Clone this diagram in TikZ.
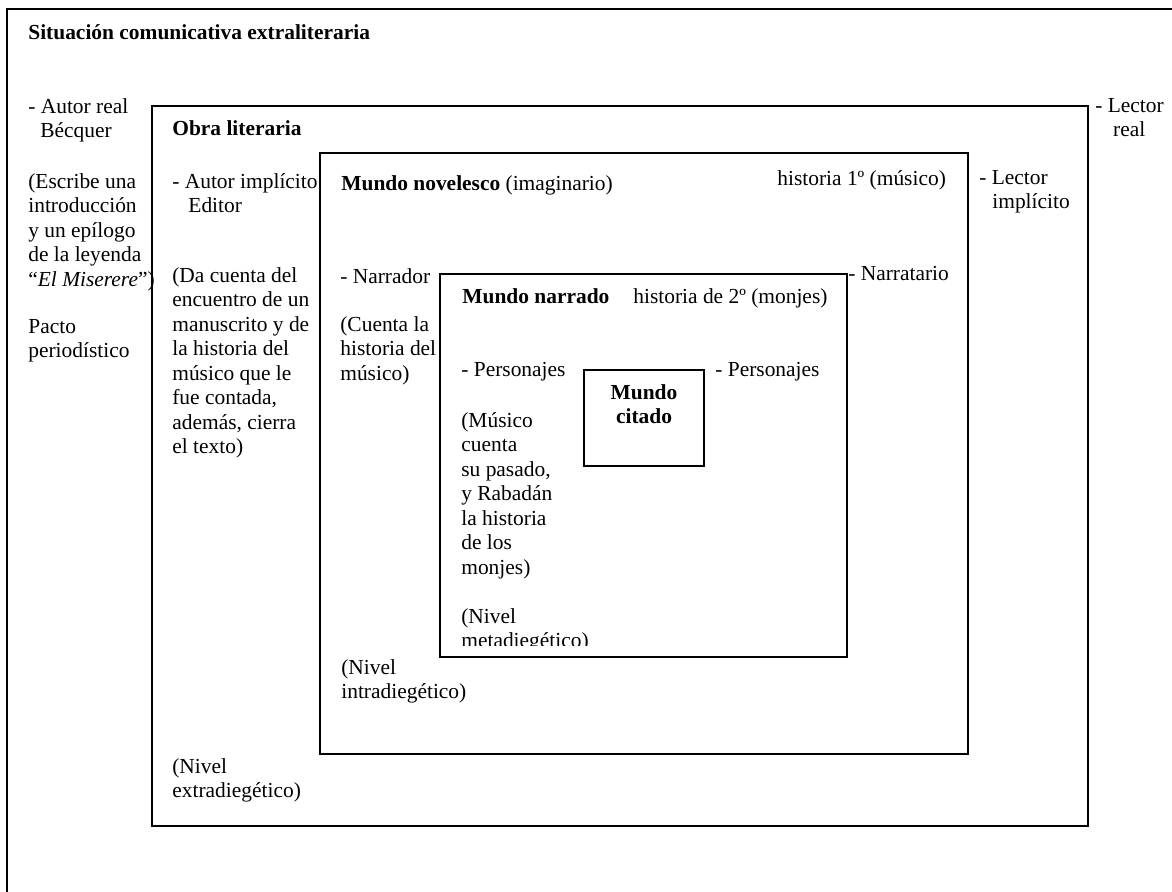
\documentclass[tikz,border=0pt]{standalone}
\usepackage{fontspec}
\setmainfont{Liberation Serif}
\usepackage{tikz}

\begin{document}
\begin{tikzpicture}[x=0.56pt,y=-0.56pt]
\tikzset{
  txt/.style={font=\fontsize{12}{13.7}\selectfont,inner sep=0pt,anchor=north west,align=left},
  ttl/.style={txt,font=\fontsize{12}{13.7}\selectfont\bfseries},
  frame/.style={draw,line width=1.1pt}
}
\useasboundingbox (0,0) rectangle (1172,892);

\draw[frame] (7,892) -- (7,9) -- (1172,9);
\draw[frame] (152,106) rectangle (1088,826);
\draw[frame] (320,153) rectangle (968,754);
\draw[frame] (440,274) rectangle (847,657);
\draw[frame] (584,370) rectangle (704,466);

\node[ttl] (situacion) at (28,24) {Situación comunicativa extraliteraria};
\node[txt] (autorreal) at (28,98) {- Autor real\\\hspace*{6.7pt}Bécquer};
\node[txt] (escribe) at (28,173) {(Escribe una\\introducción\\y un epílogo\\de la leyenda\\“\textit{El Miserere}”)};
\node[txt] (pacto) at (28,319) {Pacto\\periodístico};

\node[ttl] (obra) at (172,120) {Obra literaria};
\node[txt] (autorimpl) at (172,173) {- Autor implícito\\\hspace*{9pt}Editor};
\node[txt] (dacuenta) at (172,267) {(Da cuenta del\\encuentro de un\\manuscrito y de\\la historia del\\músico que le\\fue contada,\\además, cierra\\el texto)};
\node[txt] (extra) at (172,758) {(Nivel\\extradiegético)};

\node[txt] (novelesco) at (341,175) {\textbf{Mundo novelesco} (imaginario)};
\node[txt] (historia1) at (777,170) {historia 1º (músico)};
\node[txt] (lectorimpl) at (979,170) {- Lector\\\hspace*{7.3pt}implícito};
\node[txt] (lectorreal) at (1095,98) {- Lector\\\hspace*{10pt}real};
\node[txt] (narrador) at (340,268) {- Narrador};
\node[txt] (cuenta) at (340,316) {(Cuenta la\\historia del\\músico)};
\node[txt] (narratario) at (848,266) {- Narratario};
\node[txt] (intra) at (341,659) {(Nivel\\intradiegético)};

\node[ttl] (narrado) at (462,288) {Mundo narrado};
\node[txt] (historia2) at (633,288) {historia de 2º (monjes)};
\node[txt] (personajesa) at (461,362) {- Personajes};
\node[txt] (personajesb) at (715,362) {- Personajes};
\node[ttl,anchor=north,align=center] (citado) at (644,384) {Mundo\\citado};
\node[txt] (musico) at (461,412) {(Músico\\cuenta\\su pasado,\\y Rabadán\\la historia\\de los\\monjes)};
\begin{scope}
\clip (440,274) rectangle (847,646);
\node[txt] (meta) at (461,608) {(Nivel\\metadiegético)};
\end{scope}
\end{tikzpicture}
\end{document}
